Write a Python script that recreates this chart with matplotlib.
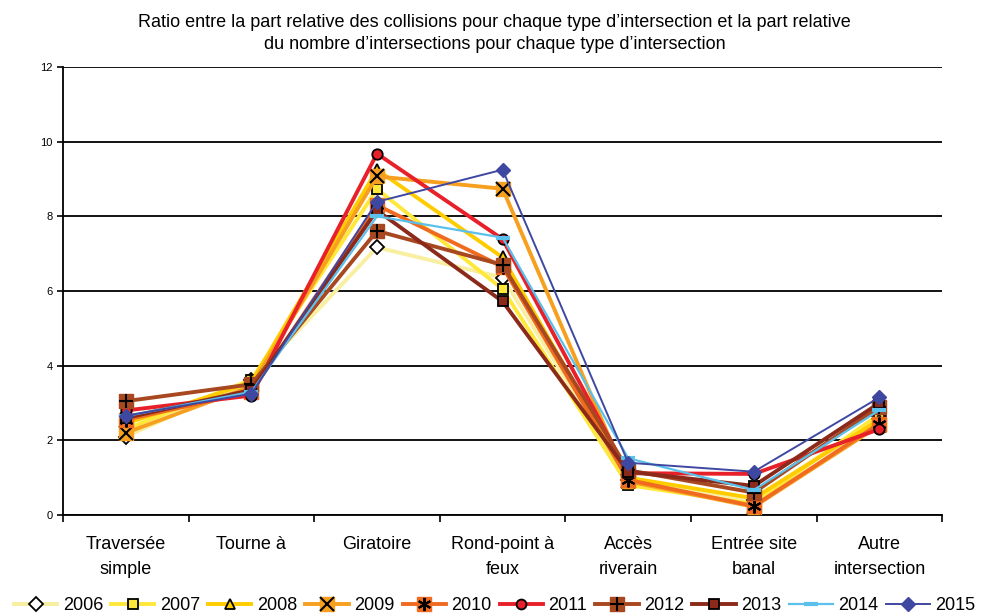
import matplotlib
matplotlib.use('Agg')
import matplotlib.pyplot as plt
from matplotlib.legend_handler import HandlerTuple

plt.rcParams['font.family'] = ['Liberation Sans', 'DejaVu Sans']

categories = ['Traversée\nsimple', 'Tourne à', 'Giratoire', 'Rond-point à\nfeux',
              'Accès\nriverain', 'Entrée site\nbanal', 'Autre\nintersection']
years = ['2006', '2007', '2008', '2009', '2010', '2011', '2012', '2013', '2014', '2015']

v2006 = [2.10, 3.62, 7.17, 6.36, 0.95, 0.40, 2.65]
v2007 = [2.30, 3.62, 8.73, 6.05, 0.80, 0.30, 2.70]
v2008 = [2.45, 3.55, 9.25, 6.90, 1.00, 0.45, 2.55]
v2009 = [2.20, 3.45, 9.07, 8.74, 0.90, 0.22, 2.40]
v2010 = [2.55, 3.30, 8.30, 6.65, 0.94, 0.24, 2.45]
v2011 = [2.80, 3.20, 9.68, 7.39, 1.12, 1.10, 2.30]
v2012 = [3.05, 3.50, 7.61, 6.70, 1.20, 0.60, 2.90]
v2013 = [2.60, 3.35, 8.16, 5.72, 1.16, 0.78, 3.00]
v2014 = [2.65, 3.30, 8.00, 7.43, 1.52, 0.67, 2.81]
v2015 = [2.66, 3.25, 8.39, 9.25, 1.40, 1.16, 3.15]

series = [v2006, v2007, v2008, v2009, v2010, v2011, v2012, v2013, v2014, v2015]
colors = ['#F8EFA0', '#FFE83A', '#FFCC00', '#F7A020', '#F06A20',
          '#E8202A', '#A84820', '#8B2A1A', '#5BC0EB', '#3F48A0']

fig = plt.figure(figsize=(9.89, 6.15), dpi=100)
ax = fig.add_axes([0.0637, 0.1626, 0.889, 0.7284])
x = list(range(len(categories)))

handles = []
for i, (yr, vals, c) in enumerate(zip(years, series, colors)):
    z = 3 + i
    if yr in ('2006',):
        h, = ax.plot(x, vals, color=c, lw=2.8, marker='D', ms=7, mfc='white', mec='black', mew=1.3, zorder=z)
        handles.append(h)
    elif yr == '2007':
        h, = ax.plot(x, vals, color=c, lw=2.8, marker='s', ms=7.5, mfc=c, mec='black', mew=1.3, zorder=z)
        handles.append(h)
    elif yr == '2008':
        h, = ax.plot(x, vals, color=c, lw=2.8, marker='^', ms=8, mfc=c, mec='black', mew=1.3, zorder=z)
        handles.append(h)
    elif yr in ('2009', '2010', '2012'):
        inner = {'2009': 'x', '2010': (6, 2, 0), '2012': '+'}[yr]
        h1, = ax.plot(x, vals, color=c, lw=2.8, marker='s', ms=10, mfc=c, mec=c, zorder=z)
        h2, = ax.plot(x, vals, ls='none', marker=inner, ms=10, mec='black', mew=1.5, zorder=z)
        handles.append((h1, h2))
    elif yr == '2011':
        h, = ax.plot(x, vals, color=c, lw=2.8, marker='o', ms=7.5, mfc=c, mec='black', mew=1.3, zorder=z)
        handles.append(h)
    elif yr == '2013':
        h, = ax.plot(x, vals, color=c, lw=2.8, marker='s', ms=7.5, mfc=c, mec='black', mew=1.3, zorder=z)
        handles.append(h)
    elif yr == '2014':
        h, = ax.plot(x, vals, color=c, lw=1.6, marker='_', ms=10, mew=3, mec=c, zorder=z)
        handles.append(h)
    else:
        h, = ax.plot(x, vals, color=c, lw=1.4, marker='D', ms=7, mfc=c, mec=c, zorder=z)
        handles.append(h)

ax.set_xlim(-0.5, len(categories) - 0.5)
ax.set_ylim(0, 12)
ax.set_yticks(range(0, 13, 2))
ax.yaxis.grid(True, color='black', lw=1.3)
ax.set_axisbelow(True)
ax.tick_params(axis='y', labelsize=8, length=4, width=1.2, direction='out')
ax.set_xticks(x)
ax.set_xticklabels(categories, fontsize=13, va='top', linespacing=1.65)
ax.set_xticks([i - 0.5 for i in range(len(categories) + 1)], minor=True)
ax.tick_params(axis='x', which='major', length=0, pad=15)
ax.tick_params(axis='x', which='minor', length=5, width=1.2, direction='out')
for s in ['top', 'right']:
    ax.spines[s].set_visible(False)
ax.spines['left'].set_linewidth(1.3)
ax.spines['bottom'].set_linewidth(1.3)

fig.suptitle('Ratio entre la part relative des collisions pour chaque type d’intersection et la part relative\n'
             'du nombre d’intersections pour chaque type d’intersection',
             fontsize=13, y=0.978, linespacing=1.4)

fig.legend(handles, years, loc='lower center', bbox_to_anchor=(0.5, -0.025), ncol=10,
           frameon=False, fontsize=13, handlelength=2.4, columnspacing=0.45, handletextpad=0.3,
           markerscale=0.95, handler_map={tuple: HandlerTuple(ndivide=1)})

fig.savefig('out.png', dpi=100)
